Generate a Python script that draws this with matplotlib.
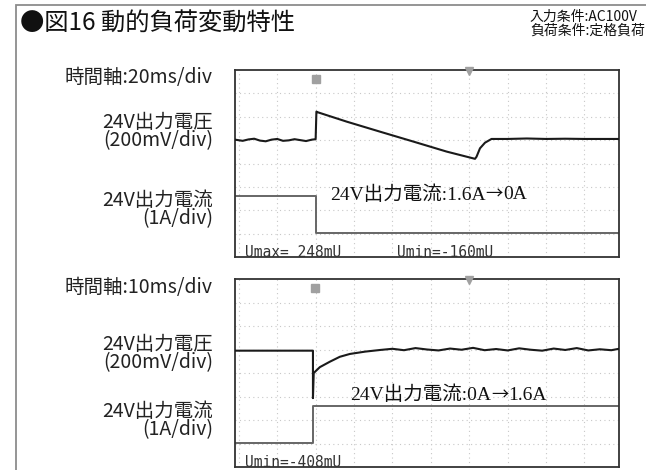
import matplotlib
matplotlib.use('Agg')
import matplotlib.pyplot as plt
from matplotlib.patches import Rectangle

# タイトルと条件
title = '●図16 動的負荷変動特性'
cond_lines = ['入力条件:AC100V', '負荷条件:定格負荷']

# 左側ラベル
time_labels = ['時間軸:20ms/div', '時間軸:10ms/div']
volt_label = '24V出力電圧\n(200mV/div)'
curr_label = '24V出力電流\n(1A/div)'
# 注記 (矢印の前, 矢印, 矢印の後)
notes = [('24V出力電流:1.6A', '→', '0A'), ('24V出力電流:0A', '→', '1.6A')]

# 波形データ(単位: div)
v1_x = [-0.1, 0.1, 0.25, 0.4, 0.55, 0.7, 0.85, 1.0, 1.15, 1.3, 1.45, 1.6, 1.75, 1.9, 2.0,
        2.02, 2.04, 2.81, 3.68, 4.54, 5.41, 6.15, 6.19, 6.28, 6.41, 6.58,
        7.0, 7.5, 8.0, 8.5, 9.0, 9.5, 9.9]
v1_y = [5.02, 4.97, 5.03, 5.06, 4.98, 4.95, 5.02, 5.05, 4.97, 4.99, 5.04, 5.0, 4.96, 5.02, 5.04,
        6.22, 6.20, 5.79, 5.36, 4.94, 4.51, 4.20, 4.29, 4.65, 4.89, 5.05,
        5.05, 5.07, 5.05, 5.06, 5.05, 5.05, 5.05]
i1_x = [-0.1, 2.02, 2.02, 9.9]
i1_y = [2.62, 2.62, 1.03, 1.03]

v2_x = [-0.1, 1.93, 1.93, 1.95, 2.11, 2.37, 2.63, 2.89, 3.29, 3.68, 4.0, 4.3, 4.6, 4.9, 5.2,
        5.5, 5.8, 6.1, 6.4, 6.7, 7.0, 7.3, 7.6, 7.9, 8.2, 8.5, 8.8, 9.1, 9.4, 9.7, 9.9]
v2_y = [4.95, 4.95, 2.93, 4.0, 4.25, 4.48, 4.69, 4.81, 4.91, 4.98, 5.03, 4.97, 5.06, 5.0, 4.96,
        5.04, 4.99, 5.07, 4.97, 5.02, 4.96, 5.05, 4.99, 4.95, 5.04, 4.98, 5.06, 4.96, 5.01, 4.97, 5.03]
i2_x = [-0.1, 1.93, 1.93, 9.9]
i2_y = [1.02, 1.02, 2.59, 2.59]

readouts1 = [(0.16, 'Umax= 248mU'), (4.12, 'Umin=-160mU')]
readouts2 = [(0.16, 'Umin=-408mU')]

W, H = 646, 470
fig = plt.figure(figsize=(W / 100, H / 100), dpi=100)
jp = ['Noto Sans CJK JP', 'DejaVu Sans']
serif_jp = ['Liberation Serif', 'Noto Sans CJK JP']

# 外枠
fig.patches.append(Rectangle((16 / W, -0.1), 1.0, (H - 5) / H + 0.1, transform=fig.transFigure,
                             fill=False, edgecolor='#8c8c8c', lw=1.3))

fig.text(20 / W, 1 - 24 / H, title, family=jp, fontsize=17.5, va='center', ha='left', color='#111')
fig.text(530 / W, 1 - 17 / H, cond_lines[0], family=jp, fontsize=10, va='center', ha='left', color='#111')
fig.text(530 / W, 1 - 31 / H, cond_lines[1], family=jp, fontsize=10, va='center', ha='left', color='#111')


def scope(top, bottom, vx, vy, ix, iy, trig, note, note_pos, readouts):
    ax = fig.add_axes([235 / W, 1 - bottom / H, 384 / W, (bottom - top) / H])
    ax.set_xlim(-0.1, 9.9)
    ax.set_ylim(0, 8)
    for k in range(0, 10):
        ax.axvline(k, color='#c8c8c8', lw=0.8, ls=(0, (1, 3)), zorder=0)
    for k in range(1, 8):
        ax.axhline(k, color='#c8c8c8', lw=0.8, ls=(0, (1, 3)), zorder=0)
    ax.set_xticks([])
    ax.set_yticks([])
    for s in ax.spines.values():
        s.set_color('#333')
        s.set_linewidth(1.3)
    ax.plot(ix, iy, color='#666', lw=1.4, zorder=2)
    ax.plot(vx, vy, color='#1a1a1a', lw=1.5, zorder=3)
    ax.plot([trig], [7.62], marker='s', ms=6, color='#a0a0a0', zorder=4)
    ax.plot([6.0], [7.95], marker='v', ms=6, color='#a0a0a0', zorder=4, clip_on=False)
    t1 = ax.text(note_pos[0], note_pos[1], note[0], family=serif_jp, fontsize=14,
                 va='center', ha='left', color='#111')
    t2 = ax.annotate(note[1], xy=(1, 0.5), xycoords=t1, va='center', ha='left',
                     family='Noto Sans CJK JP', fontsize=12.5, color='#111')
    ax.annotate(note[2], xy=(1, 0.5), xycoords=t2, va='center', ha='left',
                family=serif_jp, fontsize=14, color='#111')
    for x, s in readouts:
        ax.text(x, 0.2, s, family='DejaVu Sans Mono', fontsize=10.5, va='center', ha='left', color='#333')
    return ax


scope(70, 257, v1_x, v1_y, i1_x, i1_y, 2.0, notes[0], (2.37, 2.66), readouts1)
scope(279, 467, v2_x, v2_y, i2_x, i2_y, 1.98, notes[1], (2.9, 3.06), readouts2)

# 左側ラベル
lbl_x = 213 / W
for t, ys in zip(time_labels, [(77, 132, 210), (287, 354, 421)]):
    fig.text(lbl_x, 1 - ys[0] / H, t, family=jp, fontsize=14, ha='right', va='center', color='#222')
    fig.text(lbl_x, 1 - ys[1] / H, volt_label, family=jp, fontsize=14, ha='right', va='center',
             multialignment='right', linespacing=0.82, color='#222')
    fig.text(lbl_x, 1 - ys[2] / H, curr_label, family=jp, fontsize=14, ha='right', va='center',
             multialignment='right', linespacing=0.82, color='#222')

fig.savefig('out.png', dpi=100)
